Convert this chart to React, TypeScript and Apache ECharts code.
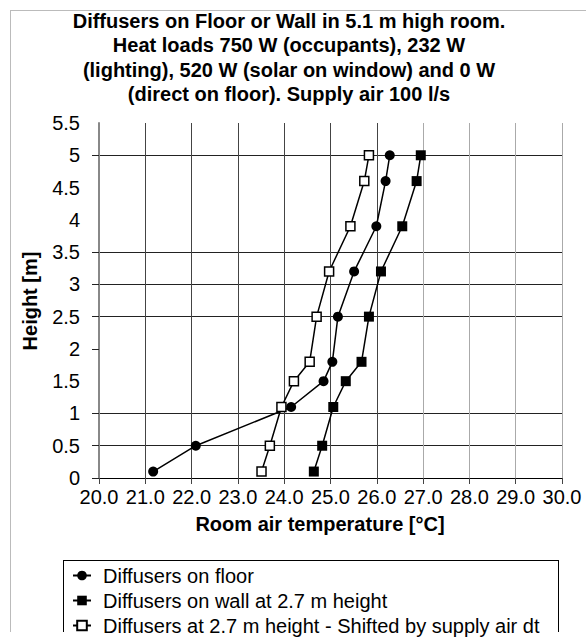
import React, { useEffect, useRef } from "react";
import * as echarts from "echarts";

const heights = [0.1, 0.5, 1.1, 1.5, 1.8, 2.5, 3.2, 3.9, 4.6, 5.0];
const floorTemps = [21.17, 22.09, 24.15, 24.85, 25.04, 25.16, 25.51, 25.99, 26.19, 26.28];
const wallTemps = [24.64, 24.82, 25.06, 25.33, 25.67, 25.83, 26.09, 26.55, 26.86, 26.95];
const shiftedTemps = [23.51, 23.69, 23.94, 24.21, 24.55, 24.7, 24.97, 25.43, 25.73, 25.83];

const seriesNames = [
  "Diffusers on floor",
  "Diffusers on wall at 2.7 m height",
  "Diffusers at 2.7 m height - Shifted by supply air dt",
];
const titleLines = [
  "Diffusers on Floor or Wall in 5.1 m high room.",
  "Heat loads 750 W (occupants), 232 W",
  "(lighting), 520 W (solar on window) and 0 W",
  "(direct on floor). Supply air 100 l/s",
];
const xAxisTitle = "Room air temperature [°C]";
const yAxisTitle = "Height [m]";
const yTickValues = [0, 0.5, 1, 2, 2.5, 3, 3.5, 5];

const FONT = "'Liberation Sans', Arial, sans-serif";

export default function App() {
  const ref = useRef<HTMLDivElement>(null);
  useEffect(() => {
    if (!ref.current) return;
    const chart = echarts.init(ref.current, null, { renderer: "svg" });
    const pts = (arr: number[]) => heights.map((h, i) => [arr[i], h]);
    chart.setOption({
      animation: false,
      backgroundColor: "#fff",
      textStyle: { fontFamily: FONT },
      grid: { left: 99, right: 24, top: 123, bottom: 162, containLabel: false },
      xAxis: {
        type: "value",
        min: 20,
        max: 30,
        interval: 1,
        axisLine: { show: true, lineStyle: { color: "#000", width: 1 } },
        axisTick: { show: true, length: 6, lineStyle: { color: "#444" } },
        axisLabel: {
          color: "#000",
          fontSize: 20,
          fontFamily: FONT,
          margin: 9,
          formatter: (v: number) => v.toFixed(1),
        },
        splitLine: {
          show: true,
          lineStyle: {
            width: 1,
            color: ["#888", "#444", "#444", "#444", "#444", "#444", "#444", "#aaa", "#aaa", "#aaa", "#aaa"],
          },
        },
      },
      yAxis: {
        type: "value",
        min: 0,
        max: 5.5,
        interval: 0.5,
        axisLine: { show: true, lineStyle: { color: "#888", width: 2 } },
        axisTick: { show: true, length: 7, customValues: yTickValues, lineStyle: { color: "#222" } },
        axisLabel: {
          color: "#000",
          fontSize: 20,
          fontFamily: FONT,
          margin: 19,
          formatter: (v: number) => String(v),
        },
        splitLine: {
          show: true,
          lineStyle: {
            width: 1,
            color: [
              "#222", "#222", "#222", "rgba(0,0,0,0)", "#222", "#222",
              "#222", "#222", "rgba(0,0,0,0)", "rgba(0,0,0,0)", "#222", "#aaa",
            ],
          },
        },
      },
      legend: {
        orient: "vertical",
        left: 72,
        top: 563,
        padding: 0,
        itemWidth: 18,
        itemHeight: 12,
        itemGap: 0,
        selectedMode: false,
        textStyle: { fontSize: 20, fontFamily: FONT, color: "#000", lineHeight: 25, padding: [0, 0, 0, 7] },
        data: seriesNames,
      },
      series: [
        {
          name: seriesNames[0],
          type: "line",
          data: pts(floorTemps),
          symbol: "circle",
          symbolSize: 10,
          itemStyle: { color: "#000" },
          lineStyle: { color: "#000", width: 1.5 },
        },
        {
          name: seriesNames[1],
          type: "line",
          data: pts(wallTemps),
          symbol: "rect",
          symbolSize: 10,
          itemStyle: { color: "#000" },
          lineStyle: { color: "#000", width: 1.5 },
        },
        {
          name: seriesNames[2],
          type: "line",
          data: pts(shiftedTemps),
          symbol: "rect",
          symbolSize: 9,
          itemStyle: { color: "#fff", borderColor: "#000", borderWidth: 1.5 },
          lineStyle: { color: "#000", width: 1.5 },
        },
      ],
      graphic: [
        { type: "line", shape: { x1: 10, y1: 10.5, x2: 586, y2: 10.5 }, style: { stroke: "#bbb", lineWidth: 1 } },
        { type: "line", shape: { x1: 10.5, y1: 10, x2: 10.5, y2: 632 }, style: { stroke: "#bbb", lineWidth: 1 } },
        {
          type: "text",
          x: 289,
          y: 9,
          style: {
            text: titleLines.join("\n"),
            textAlign: "center",
            font: `bold 20px ${FONT}`,
            lineHeight: 24.3,
            fill: "#000",
          },
        },
        {
          type: "text",
          x: 320,
          y: 514,
          style: { text: xAxisTitle, textAlign: "center", font: `bold 20px ${FONT}`, fill: "#000" },
        },
        {
          type: "text",
          x: 30,
          y: 301,
          rotation: Math.PI / 2,
          style: {
            text: yAxisTitle,
            textAlign: "center",
            textVerticalAlign: "middle",
            font: `bold 20px ${FONT}`,
            fill: "#000",
          },
        },
        { type: "line", shape: { x1: 63, y1: 560.5, x2: 559, y2: 560.5 }, style: { stroke: "#000", lineWidth: 1 } },
        { type: "line", shape: { x1: 63.5, y1: 560, x2: 63.5, y2: 632 }, style: { stroke: "#000", lineWidth: 1 } },
        { type: "line", shape: { x1: 558.5, y1: 560, x2: 558.5, y2: 632 }, style: { stroke: "#000", lineWidth: 1 } },
      ],
    });
    return () => chart.dispose();
  }, []);
  return <div ref={ref} style={{ width: 586, height: 640, position: "absolute", left: 0, top: 0 }} />;
}
